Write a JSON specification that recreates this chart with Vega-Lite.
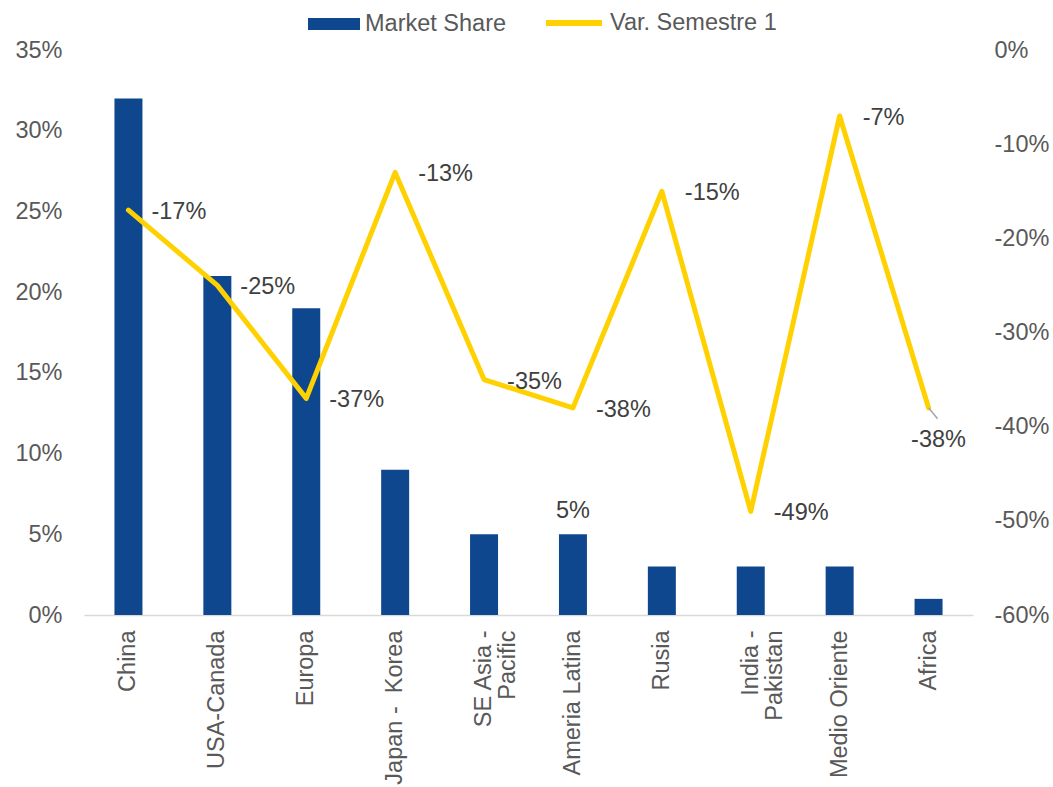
{
  "$schema": "https://vega.github.io/schema/vega-lite/v6.json",
  "autosize": "none",
  "width": 889,
  "height": 565,
  "padding": {"left": 84, "top": 50, "right": 80, "bottom": 172},
  "background": "white",
  "config": {
    "font": "Liberation Sans",
    "view": {"stroke": null},
    "locale": {"number": {"decimal": ".", "thousands": ",", "grouping": [3], "currency": ["$", ""], "minus": "-"}},
    "axis": {"labelFont": "Liberation Sans", "labelFontSize": 23.5, "labelColor": "#595959", "ticks": false, "grid": false, "title": null},
    "legend": {"labelFont": "Liberation Sans", "labelFontSize": 23.5, "labelColor": "#595959", "title": null, "padding": 0, "labelOffset": 5, "labelLimit": 400}
  },
  "data": {
    "values": [
      {"region": "China", "share": 0.32, "var": -0.17},
      {"region": "USA-Canada", "share": 0.21, "var": -0.25},
      {"region": "Europa", "share": 0.19, "var": -0.37},
      {"region": "Japan - Korea", "share": 0.09, "var": -0.13},
      {"region": "SE Asia - Pacific", "share": 0.05, "var": -0.35},
      {"region": "Ameria Latina", "share": 0.05, "var": -0.38},
      {"region": "Rusia", "share": 0.03, "var": -0.15},
      {"region": "India - Pakistan", "share": 0.03, "var": -0.49},
      {"region": "Medio Oriente", "share": 0.03, "var": -0.07},
      {"region": "Africa", "share": 0.01, "var": -0.38}
    ]
  },
  "encoding": {
    "x": {
      "field": "region", "type": "nominal", "sort": null,
      "scale": {"paddingInner": 0, "paddingOuter": 0},
      "axis": {
        "labelAngle": -90, "labelPadding": 15, "domainColor": "#D9D9D9", "domainWidth": 1.5, "labelLimit": 300,
        "labelExpr": "datum.value == 'SE Asia - Pacific' ? ['SE Asia -', 'Pacific'] : datum.value == 'India - Pakistan' ? ['India -', 'Pakistan'] : datum.value == 'Japan - Korea' ? 'Japan - \u00a0Korea' : datum.value",
        "labelLineHeight": 24
      }
    }
  },
  "layer": [
    {
      "layer": [
        {
          "mark": {"type": "bar", "size": 28},
          "encoding": {
            "y": {"field": "share", "type": "quantitative", "scale": {"domain": [0, 0.35], "nice": false},
              "axis": {"values": [0, 0.05, 0.1, 0.15, 0.2, 0.25, 0.3, 0.35], "format": ".0%", "domain": false, "labelPadding": 22, "orient": "left"}},
            "fill": {"datum": "Market Share", "type": "nominal", "scale": {"range": ["#0F478F"]},
              "legend": {"orient": "none", "legendX": 224, "legendY": -52, "symbolType": "M-1,-0.23H1V0.23H-1Z", "symbolSize": 2704, "symbolStrokeWidth": 0, "symbolOpacity": 1}}
          }
        },
        {
          "transform": [{"filter": "datum.region == 'Ameria Latina'"}],
          "mark": {"type": "text", "baseline": "alphabetic", "align": "center", "dy": -16, "fontSize": 23.5, "color": "#404040"},
          "encoding": {
            "y": {"field": "share", "type": "quantitative"},
            "text": {"field": "share", "type": "quantitative", "format": ".0%"}
          }
        }
      ]
    },
    {
      "layer": [
        {
          "mark": {"type": "line", "strokeWidth": 5, "strokeJoin": "round", "strokeCap": "round"},
          "encoding": {
            "y": {"field": "var", "type": "quantitative", "scale": {"domain": [-0.6, 0], "nice": false},
              "axis": {"values": [-0.6, -0.5, -0.4, -0.3, -0.2, -0.1, 0], "format": ".0%", "domain": false, "labelPadding": 21, "orient": "right"}},
            "stroke": {"datum": "Var. Semestre 1", "type": "nominal", "scale": {"range": ["#FFD100"]},
              "legend": {"orient": "none", "legendX": 459, "legendY": -58, "symbolType": "stroke", "symbolSize": 3136, "symbolStrokeWidth": 6}}
          }
        },
        {
          "transform": [{"filter": "datum.region == 'Africa'"}],
          "mark": {"type": "rule", "color": "#A6A6A6", "strokeWidth": 1.5, "x2Offset": 9, "y2Offset": 11},
          "encoding": {
            "y": {"field": "var", "type": "quantitative"},
            "y2": {"field": "var"},
            "x2": {"field": "region"}
          }
        },
        {
          "transform": [{"filter": "datum.region != 'Africa'"}],
          "mark": {"type": "text", "align": "left", "baseline": "middle", "dx": 23, "dy": 2, "fontSize": 23.5, "color": "#404040"},
          "encoding": {
            "y": {"field": "var", "type": "quantitative"},
            "text": {"field": "var", "type": "quantitative", "format": ".0%"}
          }
        },
        {
          "transform": [{"filter": "datum.region == 'Africa'"}],
          "mark": {"type": "text", "align": "center", "baseline": "middle", "dx": 10, "dy": 32, "fontSize": 23.5, "color": "#404040"},
          "encoding": {
            "y": {"field": "var", "type": "quantitative"},
            "text": {"field": "var", "type": "quantitative", "format": ".0%"}
          }
        }
      ]
    }
  ],
  "resolve": {"scale": {"y": "independent"}}
}
